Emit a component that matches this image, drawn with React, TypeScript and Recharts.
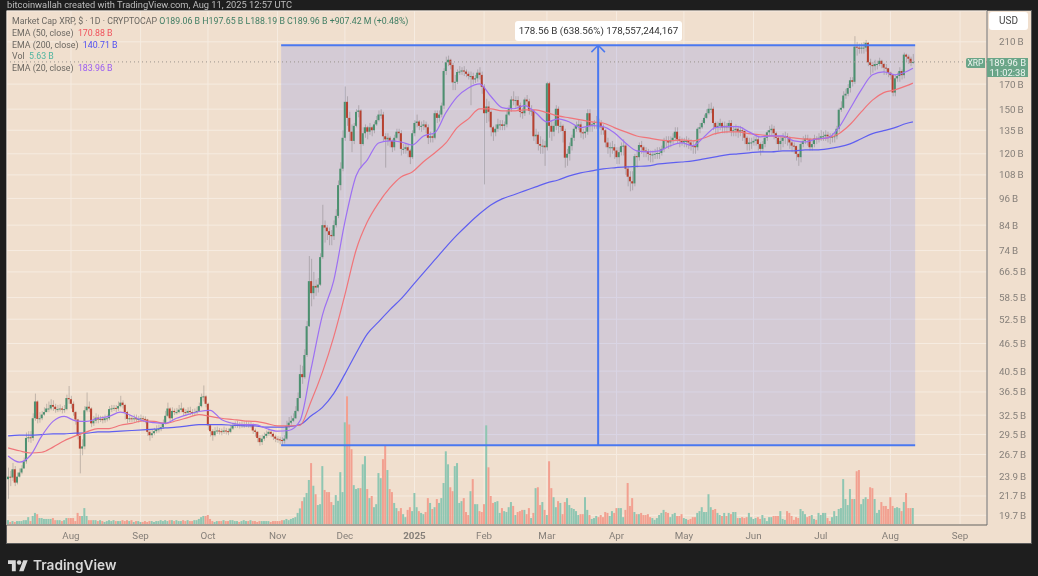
import {
  Bar,
  CartesianGrid,
  ComposedChart,
  Line,
  ReferenceArea,
  ReferenceLine,
  XAxis,
  YAxis,
} from "recharts";

// daily candles, first one is 4 Jul 2024, last one 11 Aug 2025 (billions)
const closes = [
  23.9, 23.8, 24.8, 23.2, 23.9, 24.4, 24.9, 25.8, 29.0, 29.1,
  29.0, 32.0, 34.8, 31.9, 32.0, 32.6, 33.0, 33.6, 33.6, 34.2,
  33.9, 33.5, 33.5, 33.6, 33.4, 33.5, 35.4, 35.2, 34.4, 33.0,
  31.8, 29.3, 27.5, 27.8, 33.3, 33.9, 33.6, 31.2, 31.6, 32.1,
  31.8, 31.9, 31.7, 32.0, 32.0, 33.5, 33.6, 33.7, 33.6, 34.0,
  34.6, 34.2, 33.0, 31.9, 32.0, 31.9, 32.0, 31.9, 31.9, 32.0,
  31.9, 31.8, 29.9, 29.4, 29.7, 30.0, 30.3, 30.3, 30.6, 31.2,
  32.4, 33.6, 32.0, 33.2, 33.0, 33.0, 33.4, 33.6, 33.0, 32.9,
  33.2, 33.0, 32.9, 33.0, 33.2, 34.0, 35.6, 35.7, 34.4, 30.9,
  30.0, 29.4, 30.0, 30.1, 30.0, 29.9, 30.1, 30.0, 29.9, 30.4,
  30.8, 31.0, 31.0, 30.9, 31.0, 31.0, 31.1, 31.0, 31.0, 30.1,
  29.9, 29.0, 28.4, 28.9, 29.3, 29.6, 29.9, 29.6, 29.2, 28.9,
  28.8, 28.7, 28.6, 28.9, 30.8, 31.3, 31.6, 32.0, 33.2, 35.4,
  39.9, 39.3, 43.9, 50.7, 63.5, 59.8, 62.0, 61.5, 62.4, 71.6,
  84, 83, 81.5, 80, 79.5, 84, 88, 102.6, 111.4, 130,
  155.6, 143.6, 134, 128, 138, 148, 149, 126, 133, 137,
  134, 137, 135, 139, 142, 146, 146, 131, 129, 130,
  128, 124, 130, 134, 133, 123, 123, 124, 122, 118,
  133, 140, 141, 138, 138, 139, 137, 130, 131, 130,
  147, 143.6, 146, 152.7, 181.5, 189.6, 192, 187, 171.5, 172,
  180.6, 181, 182, 181, 179, 177, 177, 174, 175, 180,
  178, 167.7, 147, 152, 148, 137, 133.6, 136, 139, 139,
  138, 139, 146, 150, 157.4, 157, 157, 152.7, 148, 147,
  157.4, 156, 148.8, 149, 131, 132, 126, 125, 125, 124,
  170.7, 138, 134, 138, 150.3, 138, 138, 134.5, 117.7, 120,
  124.7, 130, 136, 138, 139, 133.6, 133, 134, 147, 138,
  139, 140, 140.7, 140, 137, 135, 127, 124, 124, 124,
  122, 118, 121, 124.7, 125, 111.4, 107, 104.6, 103.5, 118.6,
  118, 125.4, 124, 122, 121.6, 120, 119.6, 119.6, 120, 120.5,
  120.5, 123, 128.6, 128, 127, 128.5, 130, 134, 129, 128,
  127, 128, 128, 127, 125, 124.7, 124, 136, 137, 140,
  143.6, 147, 150.3, 150.3, 140, 137, 138, 140, 137, 138,
  137, 140, 134.5, 135, 136, 134, 135, 134.5, 130, 126,
  127, 127, 128, 129, 126, 123, 126, 130, 133.6, 135,
  136, 133, 130, 126, 128, 130, 131, 130, 127, 125,
  124.7, 120, 118, 126, 128, 129.5, 129, 124, 126, 129.5,
  129, 130, 131, 131, 132, 131, 130, 131, 131, 136,
  149.6, 151, 160.6, 162, 166.7, 173.3, 172, 205, 204, 203,
  204, 204, 209, 189.6, 187, 186, 188, 188, 191, 188,
  184.6, 184, 180, 177.8, 163, 175, 177, 181.5, 177.8, 197,
  195, 193, 189.06, 189.96,
];

const highs = [
  25.0, 24.6, 25.6, 25.2, 24.4, 24.9, 25.3, 26.3, 29.8, 30.0,
  30.0, 32.8, 36.2, 35.0, 33.0, 33.2, 33.8, 34.4, 34.8, 35.2,
  35.0, 34.4, 34.2, 34.3, 34.0, 34.2, 36.0, 37.6, 35.8, 34.8,
  33.2, 31.9, 29.5, 28.8, 34.0, 36.4, 34.8, 33.8, 32.4, 32.8,
  32.6, 32.4, 32.4, 32.6, 32.6, 34.0, 34.2, 34.2, 34.2, 34.8,
  35.8, 35.0, 34.4, 33.2, 32.6, 32.4, 32.6, 32.6, 32.4, 32.6,
  32.4, 32.3, 31.9, 30.2, 30.3, 30.5, 30.9, 31.0, 31.2, 31.8,
  33.2, 34.6, 33.8, 33.8, 33.6, 33.7, 34.2, 34.6, 33.8, 33.5,
  33.8, 33.9, 33.5, 33.6, 33.9, 34.6, 36.2, 37.7, 35.9, 34.6,
  31.0, 30.3, 30.6, 30.7, 30.5, 30.4, 30.7, 30.5, 30.4, 30.9,
  31.3, 31.5, 31.6, 31.4, 31.5, 31.5, 31.6, 31.5, 31.5, 31.2,
  30.4, 30.0, 29.4, 29.5, 29.8, 30.1, 30.4, 30.2, 29.8, 29.5,
  29.3, 29.2, 29.1, 29.4, 31.6, 32.2, 32.4, 32.8, 34.0, 36.4,
  41.8, 41.6, 45.2, 52, 72, 71, 66.5, 64, 64.5, 73,
  93, 86, 84, 83, 82, 86, 91, 105, 115, 135,
  168, 160, 148, 139, 140, 150, 153, 150, 137, 139,
  138, 140, 138, 141, 145, 149, 150, 148, 133, 133,
  131, 129, 132, 136, 136, 135, 126, 126, 126, 123,
  135, 142, 146, 142, 141, 142, 141, 139, 134, 133,
  149, 149, 149, 155, 184, 195, 196, 193, 189, 178,
  183, 186, 185, 186, 183, 181, 181, 180, 178, 183,
  185, 181, 170, 158, 156, 149, 138, 139, 143, 142,
  142, 141, 149, 153, 160, 164, 160, 160, 155, 151,
  159, 161, 158, 153, 150, 136, 134, 131, 129, 128,
  172, 172, 142, 141, 153, 152, 141, 139, 136, 123,
  127, 132, 138, 141, 142, 141, 136, 137, 150, 150,
  141, 142, 145, 143, 142, 139, 136, 130, 127, 128,
  126, 124, 124, 127, 129, 126, 113, 110, 110, 120,
  122, 127, 128, 125, 124, 123, 122, 122, 123, 124,
  124, 125, 130, 131, 131, 131, 133, 137, 137, 131,
  130, 130, 131, 130, 129, 128, 127, 137, 140, 142,
  146, 150, 154, 155, 152, 141, 141, 143, 141, 141,
  140, 142, 142, 138, 139, 138, 138, 137, 135, 131,
  130, 130, 131, 132, 131, 127, 128, 132, 135, 138,
  139, 138, 134, 131, 131, 133, 134, 133, 131, 128,
  127, 125, 120, 128, 131, 132, 132, 130, 129, 132,
  131, 133, 135, 134, 135, 134, 133, 133, 134, 138,
  151, 156, 164, 166, 170, 176, 176, 216, 210, 208,
  209, 210, 212, 210, 193, 190, 192, 191, 194, 192,
  189, 188, 184, 181, 178, 178, 180, 185, 183, 199,
  198, 197, 195, 197.65,
];

const lows = [
  21.4, 22.8, 23.4, 22.8, 23.0, 23.8, 24.2, 24.9, 25.5, 28.4,
  28.3, 28.6, 31.6, 31.2, 31.3, 31.7, 32.4, 33.0, 33.0, 33.3,
  33.2, 32.9, 33.0, 33.1, 32.8, 32.9, 33.3, 34.4, 33.6, 32.4,
  31.0, 28.8, 24.3, 26.6, 27.4, 33.0, 33.0, 30.6, 30.8, 31.2,
  31.2, 31.4, 31.2, 31.3, 31.5, 31.7, 33.0, 33.2, 33.0, 33.2,
  33.8, 33.6, 31.8, 31.2, 31.4, 31.4, 31.4, 31.4, 31.3, 31.4,
  31.4, 31.2, 29.3, 28.6, 29.0, 29.4, 29.7, 29.8, 30.0, 30.4,
  31.0, 32.2, 31.4, 31.6, 32.5, 32.6, 32.8, 33.0, 32.4, 32.4,
  32.6, 32.5, 32.4, 32.5, 32.6, 33.0, 33.8, 34.8, 33.8, 30.2,
  29.2, 28.6, 29.2, 29.6, 29.5, 29.4, 29.6, 29.5, 29.4, 29.7,
  30.2, 30.5, 30.5, 30.4, 30.5, 30.5, 30.6, 30.5, 30.5, 29.6,
  29.2, 28.4, 27.9, 28.0, 28.6, 29.0, 29.3, 29.1, 28.7, 28.4,
  28.3, 28.1, 28.0, 28.2, 28.7, 30.5, 31.0, 31.4, 31.9, 33.0,
  35.4, 38, 39, 43.5, 50.5, 56, 58, 59, 60, 62,
  71, 77, 78, 76, 76, 78, 83, 87, 100, 110,
  128, 138, 128, 121, 126, 137, 144, 112, 125, 130,
  129, 132, 131, 133, 138, 141, 143, 128, 112, 125,
  124, 121, 122, 129, 128, 119, 120, 120, 118, 114,
  117, 131, 137, 135, 134, 135, 133, 126, 127, 127,
  129, 140, 141, 144, 150, 178, 186, 183, 165, 165,
  170, 178, 178, 177, 176, 174, 153, 170, 171, 172,
  174, 162, 103, 140, 141, 131, 128, 131, 134, 135,
  135, 135, 137, 145, 148, 153, 151, 149, 144, 143,
  145, 152, 146, 145, 128, 126, 122, 120, 120, 113,
  122, 130, 128, 131, 135, 133, 134, 127, 112, 113,
  116, 122, 128, 134, 135, 130, 129, 130, 132, 134,
  134, 136, 136, 136, 132, 132, 124, 120, 118, 120,
  117, 114, 114, 119, 119, 108, 102, 99.5, 100, 102,
  112, 116, 120, 118, 118, 116, 115, 115, 117, 117,
  117, 119, 121, 124, 123, 124, 126, 128, 126, 124,
  125, 124, 124, 123, 122, 120, 120, 122, 133, 136,
  139, 143, 146, 147, 135, 132, 133, 135, 133, 133,
  133, 134, 131, 131, 131, 130, 131, 128, 126, 122,
  122, 123, 125, 125, 122, 119, 121, 124, 128, 131,
  131, 129, 126, 122, 122, 124, 126, 125, 123, 121,
  120, 116, 113, 115, 124, 126, 125, 122, 122, 124,
  126, 127, 128, 128, 128, 127, 126, 127, 127, 129,
  134, 148, 150, 158, 160, 163, 168, 170, 196, 198,
  198, 198, 200, 186, 178, 180, 182, 183, 186, 184,
  178, 178, 176, 174, 160, 160, 172, 172, 174, 175,
  190, 188, 186, 188.19,
];

const volumes = [
  1.6, 1.0, 1.3, 1.0, 1.3, 1.3, 1.3, 1.6, 1.6, 2.6,
  1.3, 3.0, 4.0, 3.6, 2.3, 2.3, 2.0, 2.0, 2.0, 2.0,
  2.3, 1.6, 1.6, 1.6, 1.3, 1.6, 2.3, 2.3, 2.3, 2.3,
  1.3, 4.0, 3.0, 3.0, 5.6, 3.0, 1.6, 1.6, 1.6, 1.6,
  1.3, 1.6, 1.3, 1.0, 1.3, 1.6, 1.3, 1.6, 1.3, 1.3,
  1.3, 1.6, 1.3, 1.6, 1.3, 1.6, 1.0, 1.3, 1.3, 1.0,
  1.0, 1.3, 1.0, 1.3, 1.3, 1.0, 1.3, 1.3, 1.6, 1.3,
  1.6, 1.3, 1.6, 1.6, 1.3, 1.6, 1.3, 1.3, 1.6, 1.3,
  1.6, 1.3, 1.3, 1.6, 1.6, 2.0, 2.6, 3.0, 3.0, 3.3,
  2.0, 1.3, 1.0, 1.3, 1.3, 1.3, 1.6, 1.3, 1.3, 1.6,
  1.6, 1.3, 1.3, 1.0, 1.3, 1.6, 1.3, 1.3, 1.6, 1.3,
  1.3, 1.0, 1.3, 1.3, 1.3, 1.3, 1.3, 1.0, 1.3, 1.3,
  1.3, 1.3, 1.6, 1.6, 2.0, 1.6, 2.0, 2.3, 2.6, 4.0,
  5.5, 7.9, 9.2, 10.6, 14.9, 20.5, 13, 10.2, 6.6, 6.9,
  19.5, 11.6, 10.9, 10.9, 7.6, 6.6, 9.9, 8.0, 17.5, 10.9,
  34, 42.6, 33.3, 25.1, 13.2, 11.9, 12.2, 12.2, 20.1, 22.8,
  11.9, 8.9, 9.6, 5.9, 6.9, 17.2, 15.5, 21.8, 26.4, 18.2,
  11.9, 10.9, 7.3, 5.6, 4.6, 5.6, 3.6, 2.6, 5, 5.9,
  4.6, 10.6, 5.9, 4.6, 4, 3.6, 4.3, 8.9, 7.3, 5.3,
  5.9, 8.6, 7.3, 8.9, 13.9, 24.4, 20.1, 12.5, 11.2, 19.5,
  20.5, 7.3, 7.9, 8.9, 4.3, 3.3, 11.2, 15.2, 6.9, 6.9,
  4.6, 4.3, 6.9, 33, 19.1, 9.6, 7.3, 7.6, 7.9, 4,
  5.6, 4.6, 4.3, 5.9, 7.6, 6.3, 3.3, 4.3, 4.6, 5,
  5, 3.6, 5.6, 2.3, 4, 12.2, 12.5, 6.6, 7.6, 5,
  3.3, 21.1, 12.2, 9.2, 5.9, 7.9, 7.3, 3.6, 7.6, 8.9,
  6.6, 5.6, 5.3, 4.6, 3.3, 3.6, 3.6, 9.2, 5, 3.3,
  2, 2.3, 3, 2.6, 3.3, 2.6, 4.3, 4, 3, 4.6,
  4, 5.6, 5.6, 5.6, 2.6, 5, 13.9, 6.3, 8.9, 4.3,
  3.6, 3.6, 4, 3.3, 3.3, 3.6, 2.6, 2.3, 1.7, 2.3,
  3.3, 4, 5, 4.3, 4, 2.6, 3.6, 4, 3,
  3, 3.6, 2.3, 2, 1.7, 2, 2.6, 2.6, 4, 4.6,
  5.9, 4.3, 4.3, 10.2, 5.9, 5, 5.3, 4, 3.3, 3,
  4, 3, 4, 3.6, 4.3, 4.3, 2.3, 2.3, 2.6, 2.3,
  2.6, 4, 2.6, 2, 2.3, 2.6, 2, 3.3, 2.3, 1.3,
  2.6, 2.6, 3, 3, 3, 4.6, 2, 1.7, 4.6, 4,
  3, 1.7, 2.6, 2.3, 5.3, 4.6, 3.6, 2.6, 3, 3.3,
  2, 1.7, 4, 3.3, 4, 4, 2.3, 1.3, 2.6, 4.6,
  3, 5.3, 5.6, 15.2, 8.6, 6.6, 11.9, 8.6, 8.6, 17.8,
  18.2, 6.9, 8.6, 9.2, 8.6, 12.5, 12.2, 8.6, 4, 5,
  7.6, 6.3, 6.3, 5.3, 9.2, 6.3, 5.6, 5.9, 5.6, 4.6,
  7.6, 10.6, 5.6, 5.6, 5.63,
];

// EMAs read every fifth day, plus the last candle
const ema20 = [
  26.5, 25.7, 26.6, 29.3, 31.5, 32.3, 31.6, 31.5, 32.0, 32.3,
  33.0, 32.4, 31.6, 31.3, 31.2, 32.0, 32.6, 33.1, 33.3, 31.8,
  31.2, 31.0, 31.0, 30.4, 30.0, 30.1, 31.6, 41.1, 53.6, 63.6,
  85.4, 107.5, 116.4, 126.7, 128, 127.3, 125.4, 131.2, 133.3, 147.4,
  159.5, 166.8, 170.2, 160, 151.2, 150.3, 152.7, 147.4, 140.7, 142.9,
  140.7, 136.8, 138.2, 137.5, 133.3, 126.7, 121.8, 121.2, 121.8, 124.9,
  126.7, 124.9, 130.6, 136.8, 137.5, 137.5, 133.9, 130.6, 131.2, 131.2,
  128, 127.3, 129.2, 129.9, 136.8, 150.3, 165.2, 178.1, 180.8, 178.1,
  180.8, 183.96,
];

const ema50 = [
  27.6, 27.2, 26.9, 27.0, 27.7, 28.6, 29.3, 29.9, 30.4, 30.4,
  30.9, 31.2, 31.6, 31.5, 31.2, 31.6, 32.1, 32.6, 32.3, 32.0,
  31.8, 31.6, 31.5, 31.2, 30.8, 30.8, 30.9, 34.9, 40.3, 48.0,
  59.3, 74.2, 85.4, 93.9, 101.2, 106.9, 109.6, 115.3, 120.5, 126.7,
  136.8, 142.9, 150.2, 150.2, 148.7, 148.7, 149.5, 149.5, 147.4, 145,
  143.6, 142.2, 140.7, 140, 136.8, 133.9, 131.2, 129.9, 128.6, 128,
  128.6, 128, 129.9, 132.7, 133.9, 133.9, 132.7, 132, 131.2, 130.6,
  129.9, 129.2, 129.2, 129.9, 132.7, 138.9, 148, 156.9, 162.9, 165.2,
  168.5, 170.88,
];

const ema200 = [
  29.3, 29.4, 29.4, 29.5, 29.6, 29.6, 29.7, 29.7, 29.9, 29.9,
  30.0, 30.1, 30.2, 30.3, 30.5, 30.6, 30.8, 31.0, 31.0, 31.0,
  30.9, 30.8, 30.8, 30.6, 30.6, 30.7, 31.0, 32.4, 33.8, 36.2,
  39.9, 44.3, 48.8, 51.8, 55.0, 58.1, 62.0, 66.2, 70.6, 75.3,
  80.0, 84.5, 88.9, 92.9, 95.8, 97.7, 99.7, 101.7, 103.8, 105.3,
  107.5, 109.1, 110.2, 111.3, 111.9, 112.4, 112.7, 113.0, 114.1, 114.7,
  115.2, 115.8, 117, 118.2, 119.4, 120, 120.6, 121.2, 121.2, 121.8,
  121.8, 122.4, 122.4, 123, 124.2, 126.1, 129.4, 132.7, 134.7, 136.8,
  139.6, 140.71,
];

const priceTicks = [
  210, 170, 150, 135, 120, 108, 96, 84, 74, 66.5, 58.5, 52.5, 46.5, 40.5, 36.5,
  32.5, 29.5, 26.7, 23.9, 21.7, 19.7,
];

const monthTicks = [28, 59, 89, 120, 150, 181, 212, 240, 271, 301, 332, 362, 393, 424];
const monthLabels = ["Aug", "Sep", "Oct", "Nov", "Dec", "2025", "Feb", "Mar", "Apr", "May", "Jun", "Jul", "Aug", "Sep"];

const measureLow = 27.96;
const measureHigh = 206.52;
const measureFrom = 121.6;
const measureTo = 404;
const measureMid = 262.8;
const lastPrice = 189.96;

const rows = closes.map((close, i) => {
  const open = i === 0 ? 23.6 : closes[i - 1];
  const k = i === closes.length - 1 ? ema20.length - 1 : i % 5 === 0 ? i / 5 : -1;
  return {
    i,
    open,
    close,
    high: Math.max(highs[i], open, close),
    low: Math.min(lows[i], open, close),
    volume: volumes[i],
    ema20: k >= 0 ? ema20[k] : null,
    ema50: k >= 0 ? ema50[k] : null,
    ema200: k >= 0 ? ema200[k] : null,
  };
});

const UP = "#4c9070";
const DOWN = "#b7412f";
const GRID = "#f6ece1";
const BLUE = "#4a78f0";
const FONT = "Roboto, 'Noto Sans', sans-serif";
const X_DOMAIN = [-0.5, 436];

function Wick(p: any) {
  return <rect x={p.x} y={p.y} width={p.width} height={Math.max(p.height, 1)} fill="rgba(95,92,92,0.32)" />;
}

function Body(p: any) {
  const up = p.payload.close >= p.payload.open;
  return <rect x={p.x} y={p.y} width={p.width} height={Math.max(p.height, 1)} fill={up ? UP : DOWN} />;
}

function VolumeBar(p: any) {
  const up = p.payload.close >= p.payload.open;
  return <rect x={p.x} y={p.y} width={p.width} height={p.height} fill={up ? "#8fc6b2" : "#f2a090"} />;
}

function MonthTick(p: any) {
  const label = monthLabels[monthTicks.indexOf(p.payload.value)];
  return (
    <text x={p.x} y={p.y + 6} textAnchor="middle" fontSize={9.8} fontFamily={FONT} fontWeight={label === "2025" ? 700 : 400} fill="#857f79">
      {label}
    </text>
  );
}

function Legend() {
  const row = { position: "absolute" as const, left: 12, whiteSpace: "nowrap" as const, color: "#6c6862", fontSize: 8.8, lineHeight: "12px" };
  const ohlc = { color: "#3f7d63" };
  return (
    <>
      <div style={{ ...row, top: 15 }}>
        Market Cap XRP, $ · 1D · CRYPTOCAP&nbsp;
        <span style={ohlc}>O189.06 B&nbsp;H197.65 B&nbsp;L188.19 B&nbsp;C189.96 B&nbsp;+907.42 M (+0.48%)</span>
      </div>
      <div style={{ ...row, top: 27 }}>EMA (50, close)&nbsp; <span style={{ color: "#f0525c" }}>170.88 B</span></div>
      <div style={{ ...row, top: 39 }}>EMA (200, close)&nbsp; <span style={{ color: "#4f4ff2" }}>140.71 B</span></div>
      <div style={{ ...row, top: 50 }}>Vol&nbsp; <span style={{ color: "#4fb5a0" }}>5.63 B</span></div>
      <div style={{ ...row, top: 62 }}>EMA (20, close)&nbsp; <span style={{ color: "#9a5cf2" }}>183.96 B</span></div>
    </>
  );
}

export default function App() {
  return (
    <div style={{ position: "fixed", left: 0, top: 0, width: 1038, height: 576, background: "#1e1e1e", overflow: "hidden", fontFamily: FONT, filter: "blur(0.35px)" }}>
      <div style={{ position: "absolute", left: 7, top: 0, color: "#bdbdbd", fontSize: 9.3, lineHeight: "10px", whiteSpace: "nowrap" }}>
        bitcoinwallah created with TradingView.com, Aug 11, 2025 12:57 UTC
      </div>
      <div style={{ position: "absolute", left: 6, top: 10, width: 1024, height: 532, background: "#f0dfce", border: "1px solid #5c5c5c" }} />

      <div style={{ position: "absolute", left: 0, top: 0 }}>
        <ComposedChart width={1038} height={576} data={rows} margin={{ left: 7, right: 7, top: 11, bottom: 33 }} barGap={0} barCategoryGap={0}>
          <CartesianGrid stroke={GRID} strokeWidth={1} />
          <XAxis
            dataKey="i"
            type="number"
            domain={X_DOMAIN}
            ticks={monthTicks}
            interval={0}
            height={18}
            tick={<MonthTick />}
            tickLine={false}
            axisLine={{ stroke: "#aaa197", strokeWidth: 2 }}
          />
          <XAxis xAxisId="body" dataKey="i" type="number" domain={X_DOMAIN} hide />
          <XAxis xAxisId="vol" dataKey="i" type="number" domain={X_DOMAIN} hide />
          <YAxis
            orientation="right"
            width={44}
            scale="log"
            domain={[18.77, 245]}
            allowDataOverflow
            ticks={priceTicks}
            interval={0}
            tickFormatter={(v: number) => `${v}\u2009B`}
            tick={{ fontSize: 9.8, fill: "#857f79", fontFamily: FONT }}
            tickLine={false}
            tickMargin={6}
            axisLine={{ stroke: "#6f6f6f" }}
          />
          <YAxis yAxisId="vol" domain={[0, 170.2]} hide />

          <ReferenceArea x1={measureFrom} x2={measureTo} y1={measureLow} y2={measureHigh} fill="#7484f0" fillOpacity={0.22} stroke="none" />

          <Bar xAxisId="vol" yAxisId="vol" dataKey="volume" barSize={2} shape={VolumeBar} isAnimationActive={false} />
          <Bar dataKey={(d: any) => [d.low, d.high]} barSize={1} shape={Wick} isAnimationActive={false} />
          <Bar
            xAxisId="body"
            dataKey={(d: any) => [Math.min(d.open, d.close), Math.max(d.open, d.close)]}
            barSize={2}
            shape={Body}
            isAnimationActive={false}
          />

          <Line dataKey="ema200" stroke="#5f5ff0" strokeWidth={1.2} dot={false} connectNulls type="monotone" isAnimationActive={false} />
          <Line dataKey="ema50" stroke="#f0757a" strokeWidth={1.2} dot={false} connectNulls type="monotone" isAnimationActive={false} />
          <Line dataKey="ema20" stroke="#9d70f2" strokeWidth={1.2} dot={false} connectNulls type="monotone" isAnimationActive={false} />

          <ReferenceLine y={lastPrice} stroke="#9a948c" strokeDasharray="1 3" />
          <ReferenceLine segment={[{ x: measureFrom, y: measureHigh }, { x: measureTo, y: measureHigh }]} stroke={BLUE} strokeWidth={2} />
          <ReferenceLine segment={[{ x: measureFrom, y: measureLow }, { x: measureTo, y: measureLow }]} stroke={BLUE} strokeWidth={2} />
          <ReferenceLine segment={[{ x: measureMid, y: measureLow }, { x: measureMid, y: measureHigh }]} stroke={BLUE} strokeWidth={2} />
          <ReferenceLine segment={[{ x: measureMid - 3, y: 199.5 }, { x: measureMid, y: measureHigh }]} stroke={BLUE} strokeWidth={1.5} />
          <ReferenceLine segment={[{ x: measureMid + 3, y: 199.5 }, { x: measureMid, y: measureHigh }]} stroke={BLUE} strokeWidth={1.5} />
        </ComposedChart>
      </div>

      <Legend />

      <div style={{ position: "absolute", left: 515, top: 21, width: 167, height: 20, background: "#fff", borderRadius: 3, color: "#333", fontSize: 9.8, lineHeight: "20px", textAlign: "center", whiteSpace: "nowrap" }}>
        178.56 B (638.56%) 178,557,244,167
      </div>

      <div style={{ position: "absolute", left: 989, top: 12, width: 39, height: 18, background: "#fff", borderRadius: 3, color: "#444", fontSize: 10, lineHeight: "18px", textAlign: "center" }}>
        USD
      </div>
      <div style={{ position: "absolute", left: 966, top: 58, width: 19, height: 10, background: "#6aa588", borderRadius: "2px 0 0 2px", color: "#eef5f0", fontSize: 8.5, lineHeight: "10px", textAlign: "center" }}>
        XRP
      </div>
      <div style={{ position: "absolute", left: 987, top: 58, width: 41, height: 19, background: "#6aa588", color: "#eef5f0", fontSize: 9.4, lineHeight: "9.5px", textAlign: "center" }}>
        189.96 B
        <br />
        11:02:38
      </div>

      <svg style={{ position: "absolute", left: 8, top: 558 }} width={20} height={15} viewBox="0 0 36 27">
        <path d="M14 24H7V11H0V4h14v20zM28 24h-8l7.5-20h8L28 24z" fill="#d8d8d8" />
        <circle cx={20} cy={8} r={4} fill="#d8d8d8" />
      </svg>
      <div style={{ position: "absolute", left: 33, top: 555, color: "#d8d8d8", fontFamily: "Inter, sans-serif", fontSize: 13.7, lineHeight: "20px", fontWeight: 600 }}>TradingView</div>
    </div>
  );
}
